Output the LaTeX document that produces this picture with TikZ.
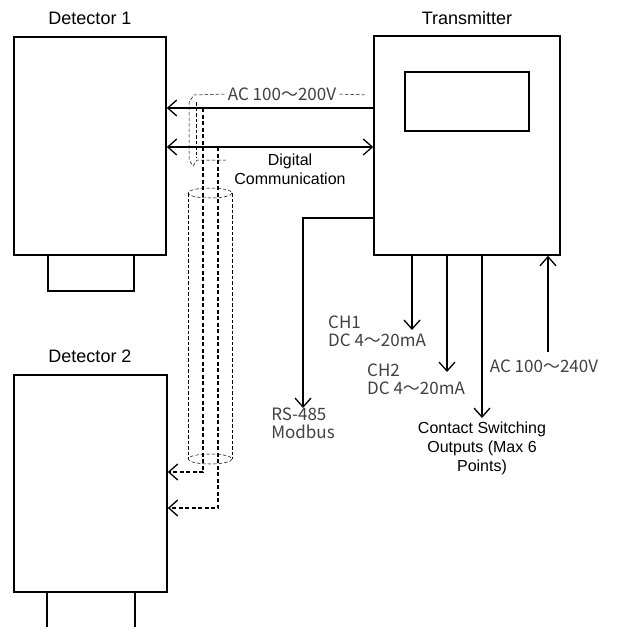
\documentclass[tikz,border=0pt]{standalone}
\usepackage{fontspec}
\setmainfont{Liberation Sans}
\newfontfamily\jpfont{Noto Sans CJK JP}
\usetikzlibrary{arrows.meta}

\tikzset{
  box/.style={draw, line width=1.6pt, inner sep=0pt},
  wire/.style={line width=1.3pt},
  cable/.style={line width=2.2pt, dash pattern=on 4pt off 2.5pt},
  shield/.style={line width=0.5pt, dash pattern=on 3.5pt off 2pt},
  title/.style={font=\fontsize{18}{21}\selectfont},
  lbl/.style={font=\fontsize{16}{19}\selectfont, align=center},
  jlbl/.style={font=\jpfont\fontsize{17}{18}\selectfont, text=black!75, align=left, inner sep=0pt},
  >={Straight Barb[length=9pt,width=16pt,line width=1.3pt]}
}

\begin{document}
\begin{tikzpicture}[x=1pt,y=-1pt]
    \useasboundingbox (0,0) rectangle (619,627);

    % Geraete
    \node[box, minimum width=152pt, minimum height=218pt] (det1) at (90,146) {};
    \node[box, minimum width=153pt, minimum height=217pt] (det2) at (90.5,483.5) {};
    \node[box, minimum width=186pt, minimum height=219pt] (tx) at (467,145.5) {};
    \node[box, minimum width=124pt, minimum height=59pt] (disp) at (467,101.5) {};

    % Sockel
    \draw[line width=1.6pt] (48,255) -- (48,291) -- (134,291) -- (134,255);
    \draw[line width=1.6pt] (47,592) -- (47,627);
    \draw[line width=1.6pt] (135,592) -- (135,627);

    % Titel
    \node[title] (t1) at (90,18) {Detector 1};
    \node[title] (t2) at (90,356) {Detector 2};
    \node[title] (t3) at (467,18) {Transmitter};

    % Hilfspunkte
    \coordinate (acy) at (0,108);
    \coordinate (digy) at (0,147);
    \coordinate (rsy) at (0,218);
    \coordinate (w1) at (203,472);
    \coordinate (w2) at (218,508);

    % Versorgung und Kommunikation Detector 1
    \draw[wire, ->] (tx.west |- acy) -- (det1.east |- acy);
    \draw[wire, <->] (det1.east |- digy) -- (tx.west |- digy);
    \node[jlbl, fill=white, inner sep=3pt] (ac1) at (282,94) {AC 100～200V};
    \node[lbl] (dig) at (290,169) {Digital\\Communication};

    % Abschirmung
    \draw[shield] (ac1.west) -- (194,95) -- (189,102) -- (189,160) -- (193,166) -- (197,160) -- (226,160);
    \draw[shield] (ac1.east) -- (366,95);
    \draw[shield, line width=0.9pt] (196,102) -- (196,158);
    \draw[shield] (188,193) -- (188,459);
    \draw[shield] (232,193) -- (232,459);
    \draw[shield] (210,193) ellipse [x radius=22, y radius=5];
    \draw[shield] (210,459) ellipse [x radius=22, y radius=5];

    % Leitungen zu Detector 2
    \draw[cable, ->] (203,108) -- (w1) -- (det2.east |- w1);
    \draw[cable, ->] (218,147) -- (w2) -- (det2.east |- w2);

    % Ausgaenge Transmitter
    \node[jlbl, anchor=north] (rs) at (303,408) {RS-485\\Modbus};
    \draw[wire, ->] (tx.west |- rsy) -| (rs.north);

    \coordinate (ch1) at (412,330);
    \coordinate (ch2) at (447,372);
    \draw[wire, ->] (tx.south -| ch1) -- (ch1);
    \draw[wire, ->] (tx.south -| ch2) -- (ch2);
    \node[jlbl, anchor=north west] (l1) at (328,316) {CH1\\DC 4～20mA};
    \node[jlbl, anchor=north west] (l2) at (367,364) {CH2\\DC 4～20mA};

    \node[lbl, anchor=north] (cso) at (482,418) {Contact Switching\\Outputs (Max 6\\Points)};
    \draw[wire, ->] (tx.south -| cso) -- (cso.north);

    \coordinate (acin) at (548,352);
    \draw[wire, ->] (acin) -- (tx.south -| acin);
    \node[jlbl] (ac2) at (544,366) {AC 100～240V};
\end{tikzpicture}
\end{document}
